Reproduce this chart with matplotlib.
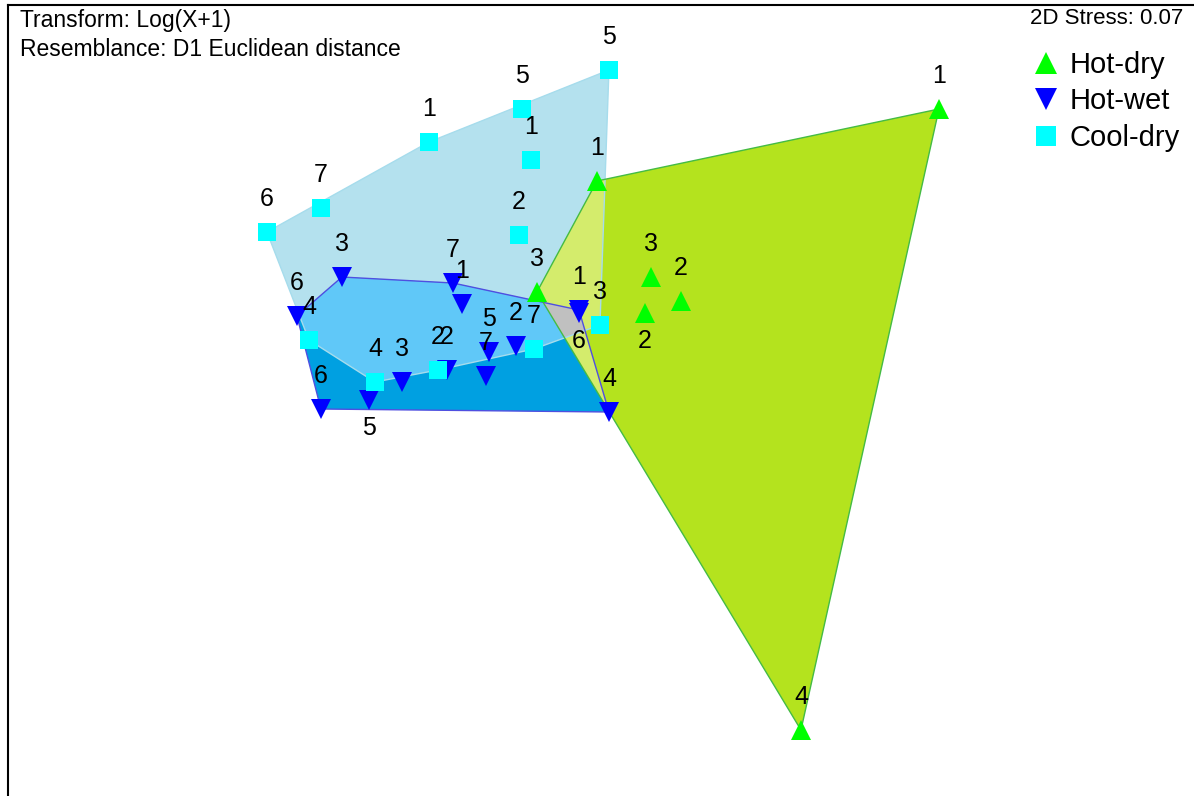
import matplotlib.pyplot as plt
from matplotlib.lines import Line2D

plt.rcParams['font.family'] = ['Liberation Sans', 'DejaVu Sans']

# nMDS coordinates, one group at a time
hd_x = [1.13, -0.01, -0.21, 0.17, 0.27, 0.15, 0.67]
hd_y = [0.97, 0.73, 0.36, 0.41, 0.33, 0.29, -1.10]
hd_lab = ['1', '1', '3', '3', '2', '2', '4']

hw_x = [-0.86, -0.49, -0.46, -1.01, -0.07, -0.37, -0.38, -0.28, -0.51, -0.66, -0.77, -0.93, 0.03, -0.07]
hw_y = [0.41, 0.39, 0.32, 0.28, 0.30, 0.16, 0.08, 0.18, 0.10, 0.06, 0.00, -0.03, -0.04, 0.29]
hw_lab = ['3', '7', '1', '6', '1', '5', '7', '2', '2', '3', '5', '6', '4', '6']

cd_x = [0.03, -0.26, -0.57, -0.23, -0.93, -1.11, -0.27, -0.97, -0.75, -0.54, -0.22, 0.00]
cd_y = [1.10, 0.97, 0.86, 0.80, 0.64, 0.56, 0.55, 0.20, 0.06, 0.10, 0.17, 0.25]
cd_lab = ['5', '5', '1', '1', '7', '6', '2', '4', '4', '2', '7', '3']

stress = 0.07

# which labels sit under their point instead of above
below = {'Hot-dry': [5], 'Hot-wet': [10, 13], 'Cool-dry': []}


def hull(xs, ys):
    pts = sorted(set(zip(xs, ys)))

    def cross(o, a, b):
        return (a[0] - o[0]) * (b[1] - o[1]) - (a[1] - o[1]) * (b[0] - o[0])

    lower, upper = [], []
    for p in pts:
        while len(lower) >= 2 and cross(lower[-2], lower[-1], p) <= 0:
            lower.pop()
        lower.append(p)
    for p in reversed(pts):
        while len(upper) >= 2 and cross(upper[-2], upper[-1], p) <= 0:
            upper.pop()
        upper.append(p)
    return lower[:-1] + upper[:-1]


def clip(poly, clipper):
    # Sutherland-Hodgman, clipper is convex and counter-clockwise
    out = poly
    for i in range(len(clipper)):
        a, b = clipper[i], clipper[(i + 1) % len(clipper)]
        inp, out = out, []
        if not inp:
            break

        def inside(p):
            return (b[0] - a[0]) * (p[1] - a[1]) - (b[1] - a[1]) * (p[0] - a[0]) >= 0

        def inter(p, q):
            x1, y1, x2, y2 = p[0], p[1], q[0], q[1]
            x3, y3, x4, y4 = a[0], a[1], b[0], b[1]
            d = (x1 - x2) * (y3 - y4) - (y1 - y2) * (x3 - x4)
            t = ((x1 - x3) * (y3 - y4) - (y1 - y3) * (x3 - x4)) / d
            return (x1 + t * (x2 - x1), y1 + t * (y2 - y1))

        s = inp[-1]
        for e in inp:
            if inside(e):
                if not inside(s):
                    out.append(inter(s, e))
                out.append(e)
            elif inside(s):
                out.append(inter(s, e))
            s = e
    return out


h_hd = hull(hd_x, hd_y)
h_hw = hull(hw_x, hw_y)
h_cd = hull(cd_x, cd_y)

fig = plt.figure(figsize=(11.94, 7.96), dpi=100)
ax = fig.add_axes([8 / 1194, 0, 1 - 8 / 1194, 1 - 5 / 796])
ax.set_xlim(-1.973, 1.98)
ax.set_ylim(-1.32, 1.3167)


def fill(poly, color, z):
    if len(poly) >= 3:
        ax.fill([p[0] for p in poly], [p[1] for p in poly], color=color, lw=0, zorder=z)


fill(h_cd, '#b4e1ee', 1)
fill(h_hw, '#00a0e1', 1)
fill(h_hd, '#b4e31e', 1)
fill(clip(h_hw, h_cd), '#60c8f8', 2)
fill(clip(h_hd, h_cd), '#d4ec6c', 2)
fill(clip(h_hd, h_hw), '#d4ec6c', 2)
fill(clip(clip(h_hd, h_hw), h_cd), '#c0c0c0', 3)


def edges(poly, color):
    xs = [p[0] for p in poly] + [poly[0][0]]
    ys = [p[1] for p in poly] + [poly[0][1]]
    ax.plot(xs, ys, color=color, lw=1, zorder=4)


edges(h_cd, '#a6dcec')
edges(h_hw, '#4f4fe0')
edges(h_hd, '#44bb44')

ax.plot(hw_x, hw_y, 'v', color='#0000ff', ms=15, mew=0, zorder=5)
ax.plot(cd_x, cd_y, 's', color='#00ffff', ms=13, mew=0, zorder=6)
ax.plot(hd_x, hd_y, '^', color='#00ff00', ms=15, mew=0, zorder=7)

for name, xs, ys, labs in [('Hot-dry', hd_x, hd_y, hd_lab),
                           ('Hot-wet', hw_x, hw_y, hw_lab),
                           ('Cool-dry', cd_x, cd_y, cd_lab)]:
    for i, (x, y, t) in enumerate(zip(xs, ys, labs)):
        dy = -20 if i in below[name] else 24
        ax.annotate(t, (x, y), xytext=(0, dy), textcoords='offset points',
                    ha='center', va='center', fontsize=18, zorder=8)

for s in ['right', 'bottom']:
    ax.spines[s].set_visible(False)
for s in ['left', 'top']:
    ax.spines[s].set_linewidth(1.5)
ax.set_xticks([])
ax.set_yticks([])

fig.text(20 / 1194, 1 - 20 / 796, 'Transform: Log(X+1)', fontsize=16.5, ha='left', va='center')
fig.text(20 / 1194, 1 - 50 / 796, 'Resemblance: D1 Euclidean distance', fontsize=16.5, ha='left', va='center')
fig.text(1183 / 1194, 1 - 19 / 796, f'2D Stress: {stress:.2f}', fontsize=16, ha='right', va='center')

handles = [Line2D([], [], marker='^', color='#00ff00', ls='', ms=16, mew=0, label='Hot-dry'),
           Line2D([], [], marker='v', color='#0000ff', ls='', ms=16, mew=0, label='Hot-wet'),
           Line2D([], [], marker='s', color='#00ffff', ls='', ms=14, mew=0, label='Cool-dry')]
fig.legend(handles=handles, loc='upper left', bbox_to_anchor=(1033 / 1194, 1 - 51 / 796),
           frameon=False, fontsize=21, handlelength=0.9, handletextpad=0.35,
           labelspacing=0.29, borderpad=0, borderaxespad=0)

fig.savefig('out.png', dpi=100)
